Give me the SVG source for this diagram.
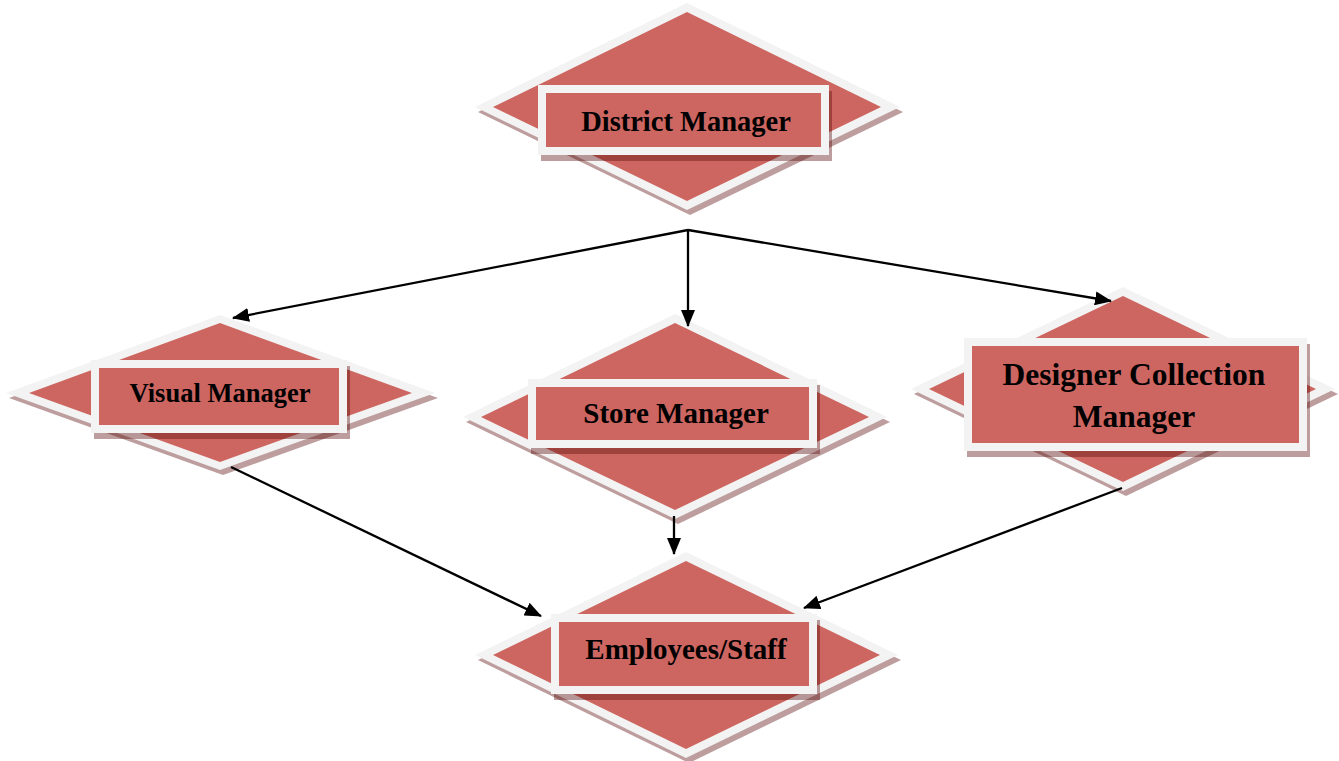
<svg xmlns="http://www.w3.org/2000/svg" width="1339" height="761" viewBox="0 0 1339 761">
<style>
.sh{fill:#5a0a0a;opacity:0.4}
.wb{fill:#F3F3F3}
.rd{fill:#CD6660}
.lbl{font-family:"Liberation Serif","Times New Roman",serif;font-weight:bold;fill:#000;text-anchor:middle}
.cn{stroke:#000;stroke-width:2.3;fill:none;marker-end:url(#ah)}
</style>
<defs>
<marker id="ah" markerUnits="userSpaceOnUse" markerWidth="18" markerHeight="14" refX="16" refY="7" orient="auto">
<path d="M0,0 L17,7 L0,14 z" fill="#000"/>
</marker>
</defs>
<rect width="1339" height="761" fill="#fff"/>
<g id="district">
<polygon class="sh" points="690,8 903,112 690,215 478,112"/>
<polygon class="wb" points="687,3 900,107 687,210 475,107"/>
<polygon class="rd" points="687,12 881,107 687,201 493,107"/>
<rect class="sh" x="541" y="91" width="291" height="70"/>
<rect class="wb" x="538" y="85" width="291" height="70"/>
<rect class="rd" x="546" y="93" width="275" height="54"/>
<text class="lbl" x="686" y="131" font-size="28.5">District Manager</text>
</g>
<g id="visual">
<polygon class="sh" points="223,320 438,398 223,475 9,398"/>
<polygon class="wb" points="220,315 435,393 220,470 6,393"/>
<polygon class="rd" points="220,323 412,393 220,462 29,393"/>
<rect class="sh" x="94" y="366" width="256" height="73"/>
<rect class="wb" x="91" y="360" width="256" height="73"/>
<rect class="rd" x="99" y="368" width="240" height="57"/>
<text class="lbl" x="220" y="402" font-size="26.5">Visual Manager</text>
</g>
<g id="store">
<polygon class="sh" points="678,319 890,422 678,524 466,422"/>
<polygon class="wb" points="675,314 887,417 675,519 463,417"/>
<polygon class="rd" points="675,323 869,417 675,510 481,417"/>
<rect class="sh" x="531" y="385" width="289" height="69"/>
<rect class="wb" x="528" y="379" width="289" height="69"/>
<rect class="rd" x="536" y="387" width="273" height="53"/>
<text class="lbl" x="676" y="423" font-size="29">Store Manager</text>
</g>
<g id="designer">
<polygon class="sh" points="1126,292 1338,394 1126,496 914,394"/>
<polygon class="wb" points="1123,287 1335,389 1123,491 911,389"/>
<polygon class="rd" points="1123,296 1316,389 1123,482 929,389"/>
<rect class="sh" x="967" y="344" width="343" height="113"/>
<rect class="wb" x="964" y="338" width="343" height="113"/>
<rect class="rd" x="972" y="346" width="327" height="97"/>
<text class="lbl" x="1134" y="385" font-size="31.5">Designer Collection</text>
<text class="lbl" x="1134" y="427" font-size="31.5">Manager</text>
</g>
<g id="employees">
<polygon class="sh" points="689,557 901,660 689,763 478,660"/>
<polygon class="wb" points="686,552 898,655 686,758 475,655"/>
<polygon class="rd" points="686,561 880,655 686,749 493,655"/>
<rect class="sh" x="554" y="620" width="266" height="80"/>
<rect class="wb" x="551" y="614" width="266" height="80"/>
<rect class="rd" x="559" y="622" width="250" height="64"/>
<text class="lbl" x="686" y="659" font-size="29">Employees/Staff</text>
</g>
<g id="connectors">
<path class="cn" d="M688,230 L233,318"/>
<path class="cn" d="M688,230 L688,326"/>
<path class="cn" d="M688,230 L1111,301"/>
<path class="cn" d="M231,467 L541,616"/>
<path class="cn" d="M674,516 L674,554"/>
<path class="cn" d="M1122,488 L804,608"/>
</g>
</svg>
